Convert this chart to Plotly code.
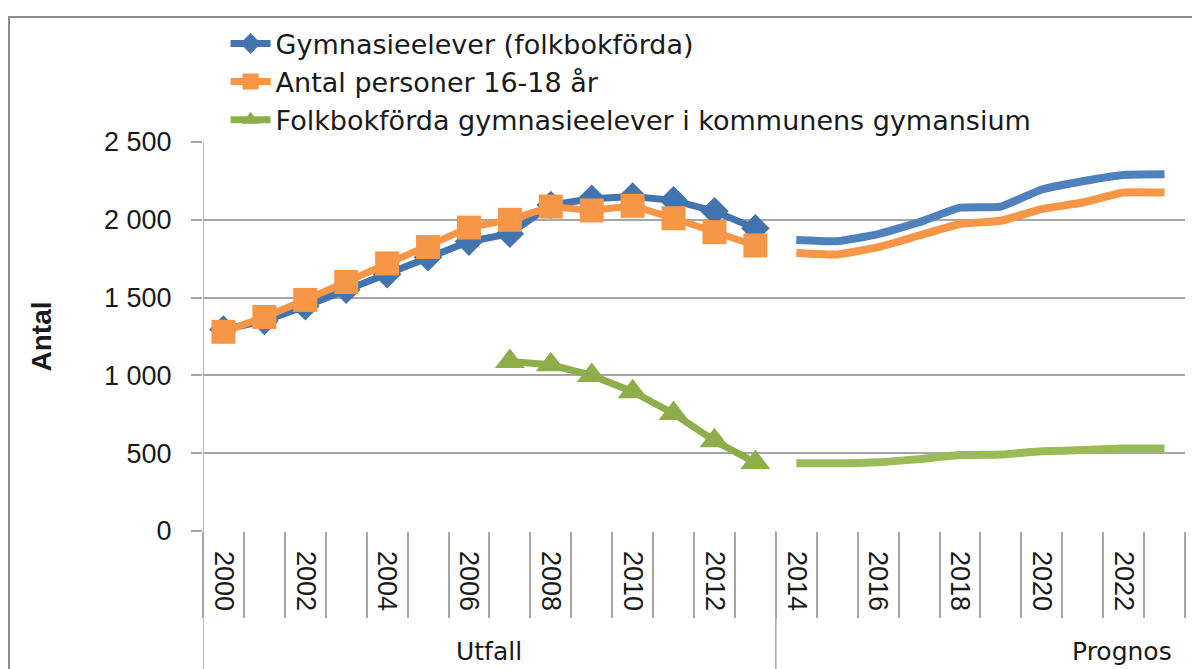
import plotly.graph_objects as go

# ---- data ----
years_hist = list(range(2000, 2014))
years_green_hist = list(range(2007, 2014))
years_prog = list(range(2014, 2024))

gymn_hist = [1295, 1350, 1445, 1550, 1650, 1760, 1860, 1910, 2095, 2135, 2150, 2125, 2055, 1945]
pers_hist = [1280, 1375, 1485, 1600, 1720, 1825, 1950, 2000, 2085, 2060, 2090, 2010, 1920, 1835]
komm_hist = [1090, 1068, 1000, 895, 755, 580, 440]

gymn_prog = [1870, 1862, 1908, 1984, 2078, 2085, 2195, 2248, 2288, 2292]
pers_prog = [1786, 1777, 1824, 1899, 1973, 1994, 2069, 2111, 2175, 2175]
komm_prog = [435, 435, 442, 462, 488, 492, 512, 520, 530, 530]

names = ["Gymnasieelever (folkbokförda)", "Antal personer 16-18 år",
         "Folkbokförda gymnasieelever i kommunens gymansium"]
group_labels = ["Utfall", "Prognos"]
year_ticks = list(range(2000, 2024, 2))
y_ticks = [0, 500, 1000, 1500, 2000, 2500]
y_ticktext = ["0", "500", "1 000", "1 500", "2 000", "2 500"]

BLUE = "#4F81BD"
BLUE_D = "#4474AE"
ORANGE = "#F79646"
GREEN = "#9BBB59"
GREEN_D = "#8EAE4C"
GRID = "#A6A6A6"
FONT = "Liberation Sans, Arial, sans-serif"
FONT_W = "DejaVu Sans, sans-serif"

fig = go.Figure()

fig.add_trace(go.Scatter(x=years_hist, y=gymn_hist, name=names[0], mode="lines+markers",
                         line=dict(color=BLUE_D, width=7),
                         marker=dict(symbol="diamond", size=22, color=BLUE_D)))
fig.add_trace(go.Scatter(x=years_hist, y=pers_hist, name=names[1], mode="lines+markers",
                         line=dict(color=ORANGE, width=7),
                         marker=dict(symbol="square", size=24, color=ORANGE)))
fig.add_trace(go.Scatter(x=years_green_hist, y=komm_hist, name=names[2], mode="lines+markers",
                         line=dict(color=GREEN_D, width=7),
                         marker=dict(symbol="triangle-up", size=26, color=GREEN_D)))

fig.add_trace(go.Scatter(x=years_prog, y=gymn_prog, mode="lines", showlegend=False,
                         line=dict(color=BLUE, width=8, shape="spline", smoothing=0.4)))
fig.add_trace(go.Scatter(x=years_prog, y=pers_prog, mode="lines", showlegend=False,
                         line=dict(color=ORANGE, width=8, shape="spline", smoothing=0.4)))
fig.add_trace(go.Scatter(x=years_prog, y=komm_prog, mode="lines", showlegend=False,
                         line=dict(color=GREEN, width=8, shape="spline", smoothing=0.4)))

# page body has an 8px margin: compensate so the plot lands where the reference has it
fig.update_layout(
    width=1192, height=661,
    margin=dict(l=195, r=15, t=131, b=138),
    paper_bgcolor="white", plot_bgcolor="white",
    font=dict(family=FONT, size=27, color="#1a1a1a"),
    showlegend=True,
    legend=dict(x=0.023, y=1.315, xanchor="left", yanchor="top",
                font=dict(size=27, family=FONT_W), bgcolor="rgba(0,0,0,0)",
                tracegroupgap=0, itemwidth=40),
    xaxis=dict(range=[1999.5, 2023.5], tickmode="array", tickvals=year_ticks,
               ticktext=[str(y) for y in year_ticks], tickangle=90, ticks="",
               ticklabelstandoff=19, showgrid=False, zeroline=False, showline=False,
               tickfont=dict(size=27), automargin=False,
               minor=dict(tickmode="array", tickvals=[y - 0.5 for y in range(2000, 2025)],
                          ticks="outside", ticklen=86, tickcolor=GRID, tickwidth=1.5,
                          showgrid=False)),
    yaxis=dict(range=[0, 2500], tickmode="array", tickvals=y_ticks, ticktext=y_ticktext,
               ticks="outside", ticklen=11, tickcolor=GRID, tickwidth=1.5,
               ticklabelstandoff=14, showgrid=True, gridcolor=GRID, gridwidth=1.5,
               zeroline=False, showline=False, tickfont=dict(size=27), automargin=False,
               title=dict(text="<b>Antal</b>", font=dict(size=28), standoff=44)),
)

# axis lines / group separators extending through category label area
fig.add_shape(type="line", xref="x", yref="paper", x0=1999.5, x1=1999.5, y0=-0.4, y1=1,
              line=dict(color=GRID, width=1.5), layer="below")
fig.add_shape(type="line", xref="x", yref="paper", x0=2013.5, x1=2013.5, y0=-0.4, y1=0,
              line=dict(color=GRID, width=1.5), layer="below")
# outer chart border
fig.add_shape(type="rect", xref="paper", yref="paper", x0=-0.1976, x1=1.2, y0=-0.6, y1=1.3215,
              line=dict(color="#8C8C8C", width=2), fillcolor="rgba(0,0,0,0)", layer="below")

for lbl, xc in zip(group_labels, [2006.5, 2021.95]):
    fig.add_annotation(text=lbl, x=xc, xref="x", y=-0.309, yref="paper",
                       showarrow=False, font=dict(size=25, family=FONT_W),
                       xanchor="center", yanchor="middle")

fig.write_html("out.html")
